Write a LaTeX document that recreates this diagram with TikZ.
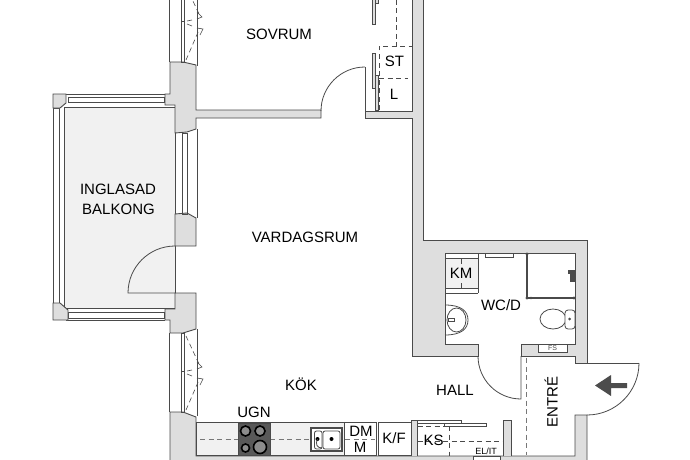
\documentclass[tikz,border=0pt]{standalone}
\usepackage{fontspec}
\setmainfont{Liberation Sans}
\usetikzlibrary{positioning}
\definecolor{wallgray}{HTML}{DEDEDE}
\definecolor{linegray}{HTML}{4A4A4A}
\definecolor{floorgray}{HTML}{F1F1F1}
\definecolor{dashgray}{HTML}{777777}
\tikzset{
  wall/.style={fill=wallgray,draw=linegray,line width=0.9pt,line join=miter},
  thin line/.style={draw=linegray,line width=0.8pt},
  hidden/.style={draw=linegray,line width=0.8pt,dash pattern=on 5pt off 3.5pt},
  roomlabel/.style={font=\fontsize{15}{18}\selectfont,text=black,inner sep=0pt},
  smalllabel/.style={font=\fontsize{9}{11}\selectfont,text=black,inner sep=0pt}
}
\begin{document}
\begin{tikzpicture}[x=1pt,y=-1pt]
\clip (0,0) rectangle (690,460);
\fill[white] (0,0) rectangle (690,460);
%%Balcony
\draw[thin line,fill=floorgray] (64.5,107) rectangle (175,308); % floor
\draw[thin line] (66,94) -- (165,94); % top
\draw[thin line] (68,97) rectangle (164,102);
\draw[thin line] (68,312) rectangle (164,318);
\draw[thin line] (66,320) -- (165,320); % bottom
\draw[thin line] (53.5,108) rectangle (59,303); % left glass
\draw[wall] (53,94) -- (66,94) -- (66,103) -- (60,108) -- (53,108) -- cycle;
\draw[wall] (53,303) -- (60,303) -- (68,310) -- (68,320) -- (53,320) -- cycle;
%%Walls
\draw[wall] (170,62) -- (183,62) -- (196,65) -- (196,110) -- (321,110) -- (321,118)
  -- (196,118) -- (196,129) -- (187,132) -- (175,133) -- (175,105) -- (165,105) -- (165,94) -- (170,94) -- cycle; % bedroom side
\draw[wall] (175,214) -- (187,213) -- (196,218) -- (196,246) -- (175,246) -- cycle; % pier
\draw[wall] (175,293) -- (196,293) -- (196,329) -- (183,333) -- (170,333) -- (170,320) -- (165,320) -- (165,309) -- (175,309) -- cycle;
\draw[wall] (170,465) -- (170,412) -- (183,412) -- (196,417) -- (196,456) -- (575,456) -- (575,415) -- (587,415) -- (587,465) -- cycle; % bottom
\draw[wall] (365,111) -- (412.5,111) -- (412.5,-5) -- (423,-5) -- (423,240) -- (587,240) -- (587,363) -- (575,363) -- (575,356)
  -- (521,356) -- (521,344) -- (575,344) -- (575,253) -- (445,253) -- (445,344) -- (478,344) -- (478,356) -- (412.5,356)
  -- (412.5,118) -- (365,118) -- cycle; % right side
\draw[wall] (411,456) -- (411,420) -- (417.5,420) -- (417.5,456);
\draw[wall] (503,456) -- (503,420) -- (511,420) -- (511,456);
%%Windows
\foreach \dy in {0,-350}{
  \draw[thin line] (169.5,333+\dy) -- (169.5,412+\dy);
  \draw[thin line] (181,333+\dy) rectangle (184.5,412+\dy);
  \draw[thin line] (181,371+\dy) -- (184.5,371+\dy);
  \draw[thin line] (197,329+\dy) -- (197,416+\dy);
  \draw[hidden,line width=0.6pt] (186,336+\dy) -- (199,364+\dy);
  \draw[hidden,line width=0.6pt] (186,410+\dy) -- (199,380+\dy);
  \draw[thin line,line width=0.6pt] (197,362+\dy) -- (202,367+\dy) -- (197,369+\dy);
  \draw[thin line,line width=0.6pt] (197,378+\dy) -- (203,379+\dy) -- (200,385+\dy);
  \draw[thin line,line width=0.6pt] (187,371+\dy) -- (192,370+\dy);
  \draw[thin line,line width=0.6pt] (187,374+\dy) -- (192,376+\dy);
}
\draw[thin line] (182,133) rectangle (187,214); % middle window
\draw[thin line] (197,129) -- (197,218);
%%Doors
\draw[thin line] (175,246) arc[start angle=90,end angle=180,radius=47pt] -- (175,293);
\draw[thin line] (365,67) arc[start angle=90,end angle=180,radius=44pt];
\draw[thin line] (365,67) -- (365,111);
\draw[thin line] (478,356) arc[start angle=180,end angle=270,radius=43pt] -- (521,356);
\draw[thin line] (639,363) arc[start angle=0,end angle=-90,radius=52pt];
\draw[thin line] (587,363) -- (639,363);
%%Wardrobe
\draw[thin line,fill=wallgray] (372,-3) rectangle (375,24);
\draw[thin line,fill=wallgray] (375,-3) rectangle (378,3);
\draw[thin line,fill=wallgray] (372,53) rectangle (375,88);
\draw[thin line,fill=wallgray] (375,75) rectangle (378,110);
\draw[hidden] (379,110) -- (379,46) -- (412,46);
\draw[hidden] (396,0) -- (396,46);
\draw[hidden] (379,78.5) -- (408,78.5);
%%Kitchen
\draw[thin line,fill=floorgray] (196,422.5) rectangle (344,455.5);
\draw[thin line] (344,422.5) rectangle (376,455.5);
\draw[thin line] (378,422.5) rectangle (411,455.5);
\draw[hidden,draw=dashgray] (200,439) -- (238,439);
\draw[hidden,draw=dashgray] (270,439) -- (310,439);
\draw[hidden,draw=dashgray] (345,439) -- (375,439);
\draw[draw=linegray,fill=black!65] (238,423) rectangle (270,455); % hob
\draw[line width=1.6pt,fill=black!45] (245.5,431) circle[radius=5pt];
\draw[line width=1.6pt,fill=black!45] (260,431) circle[radius=5pt];
\draw[line width=1.6pt,fill=black!45] (245.5,448) circle[radius=4pt];
\draw[line width=1.6pt,fill=black!45] (260,447) circle[radius=6.5pt];
\draw[line width=1.4pt,draw=linegray,fill=white] (311,428) rectangle (342,451); % sink
\draw[thin line,rounded corners=2pt] (314.5,431) rectangle (322,449);
\draw[thin line,rounded corners=2pt] (323,431) rectangle (340,449);
\fill[black] (317.5,439) circle[radius=2pt];
\fill[black] (331.5,439) circle[radius=2pt];
\draw[thin line] (317.5,439) .. controls (315,444) and (317,448) .. (322,448); % tap
%%Closet
\draw[thin line,fill=white] (417,420) rectangle (461,423);
\draw[thin line,fill=white] (444,423) rectangle (486,426);
\draw[hidden] (449,426) -- (449,456);
\draw[hidden] (417.5,441) -- (503,441);
\draw[hidden] (417.5,426) -- (444,426);
\draw[thin line,fill=white] (473,456) rectangle (500,460);
%%Bathroom
\draw[thin line,fill=floorgray] (445,258) rectangle (478,288); % KM
\draw[thin line] (445,293) -- (478,293);
\draw[thin line] (478,253) -- (478,293);
\draw[thin line] (461,258) -- (461,264);
\draw[thin line] (461,283) -- (461,288);
\draw[thin line] (485,253) rectangle (513,257);
\draw[line width=1.2pt,draw=linegray] (527,253) -- (527,298) -- (575,298); % shower
\fill[linegray] (527,254) circle[radius=1.6pt];
\fill[linegray] (527,298) circle[radius=1.6pt];
\fill[linegray] (531,298) circle[radius=1.4pt];
\fill[linegray] (574,298) circle[radius=1.6pt];
\fill[linegray] (568,270) rectangle (575,274);
\fill[linegray] (570,274) rectangle (575,282);
\draw[thin line] (445,305) .. controls (461,305) and (468,311) .. (468,320) .. controls (468,329) and (461,335) .. (445,335); % basin
\draw[thin line] (456.5,320) ellipse[x radius=9.5,y radius=12];
\draw[thin line,fill=white] (448,318.5) rectangle (454,321.5);
\draw[thin line] (553,319) ellipse[x radius=13,y radius=10]; % toilet
\draw[thin line,fill=white,rounded corners=3pt] (565,310) rectangle (575,329);
\fill[linegray] (569.5,319) circle[radius=1.5pt];
\draw[thin line,fill=white] (538.5,344) rectangle (567,352.5); % FS
%%Entrance
\draw[hidden,draw=dashgray] (526,358) -- (526,455);
\fill[black!70] (595,385.5) -- (611,375) -- (611,383) -- (627,383) -- (627,388) -- (611,388) -- (611,396) -- cycle; % arrow
%%Labels for the rooms are typeset.
\node[roomlabel] (sovrum) at (279,34) {SOVRUM};
\node[roomlabel] (st) at (394.5,61.5) {ST};
\node[roomlabel] (l) at (394,94.5) {L};
\node[roomlabel] (inglasad) at (118,189) {INGLASAD};
\node[roomlabel] (balkong) at (118.5,209) {BALKONG};
\node[roomlabel] (vardagsrum) at (305,237.5) {VARDAGSRUM};
\node[roomlabel] (km) at (461,273.5) {KM};
\node[roomlabel] (wcd) at (501,305) {WC/D};
\node[smalllabel,font=\fontsize{7}{8}\selectfont,text=black!70] (fs) at (552.5,348.5) {FS};
\node[roomlabel] (kok) at (301,384.5) {KÖK};
\node[roomlabel] (hall) at (455,390) {HALL};
\node[roomlabel,rotate=90] (entre) at (551,402) {ENTRÉ};
\node[roomlabel] (ugn) at (254,412) {UGN};
\node[roomlabel] (dm) at (361,431) {DM};
\node[roomlabel] (m) at (360,447) {M};
\node[roomlabel] (kf) at (394,438.5) {K/F};
\node[roomlabel] (ks) at (433.5,440) {KS};
\node[smalllabel] (elit) at (486,451) {EL/IT};
\end{tikzpicture}
\end{document}
